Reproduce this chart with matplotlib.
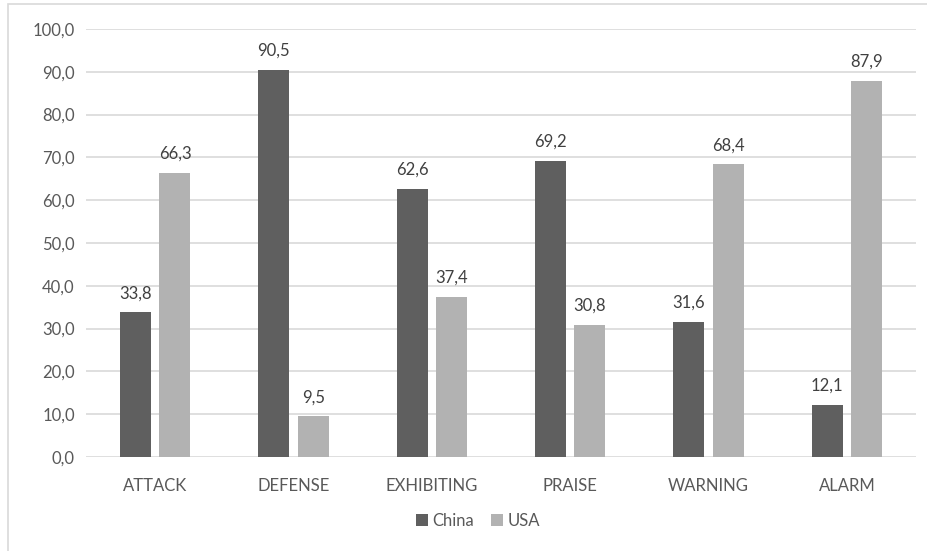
import numpy as np
import matplotlib.pyplot as plt
from matplotlib.patches import Rectangle

categories = ['ATTACK', 'DEFENSE', 'EXHIBITING', 'PRAISE', 'WARNING', 'ALARM']
china = [33.8, 90.5, 62.6, 69.2, 31.6, 12.1]
usa = [66.3, 9.5, 37.4, 30.8, 68.4, 87.9]
yticks = [0, 10, 20, 30, 40, 50, 60, 70, 80, 90, 100]

plt.rcParams['font.family'] = ['Lato', 'DejaVu Sans']
text_color = '#595959'

fig = plt.figure(figsize=(9.28, 5.51), dpi=100)
ax = fig.add_axes([86 / 928, 1 - 457 / 551, (916 - 86) / 928, (457 - 29) / 551])

x = np.arange(len(categories))
w = 0.224
off = 0.143
b1 = ax.bar(x - off, china, w, color='#5f5f5f', label='China', zorder=3)
b2 = ax.bar(x + off, usa, w, color='#b2b2b2', label='USA', zorder=3)

for bars, vals in ((b1, china), (b2, usa)):
    for bar, v in zip(bars, vals):
        ax.annotate(f'{v:.1f}'.replace('.', ','),
                    (bar.get_x() + bar.get_width() / 2, v),
                    xytext=(0, 8), textcoords='offset points',
                    ha='center', va='bottom', fontsize=12, color='#404040')

ax.set_xlim(-0.5, len(categories) - 0.5)
ax.set_ylim(0, 100)
ax.set_yticks(yticks)
ax.set_yticklabels([f'{t:.1f}'.replace('.', ',') for t in yticks])
ax.set_xticks(x)
ax.set_xticklabels(categories)
ax.tick_params(axis='both', length=0, labelsize=12, labelcolor=text_color)
ax.tick_params(axis='y', pad=8)
ax.tick_params(axis='x', pad=15)
ax.grid(axis='y', color='#d9d9d9', linewidth=1.2, zorder=0)
for s in ax.spines.values():
    s.set_visible(False)

leg = fig.legend(loc='center', bbox_to_anchor=(478 / 928, 1 - 521 / 551), ncol=2,
                 frameon=False, fontsize=12, handlelength=0.7, handleheight=0.7,
                 handletextpad=0.3, columnspacing=1.0)
for t in leg.get_texts():
    t.set_color(text_color)

# light outer border of the chart area
fig.patches.append(Rectangle((8 / 928, -0.1), 1.2, 1 - 4 / 551 + 0.1,
                             transform=fig.transFigure, fill=False,
                             edgecolor='#d9d9d9', linewidth=1.2))

fig.savefig('out.png', dpi=100)
